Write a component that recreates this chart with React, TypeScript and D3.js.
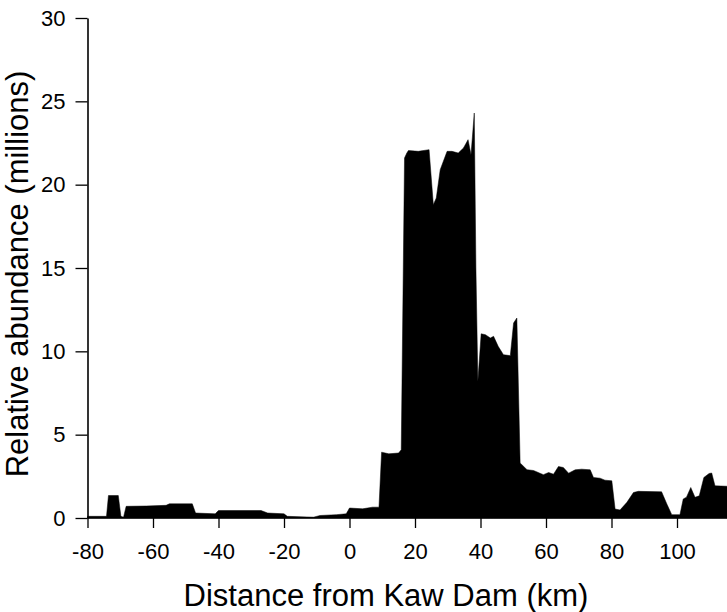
import React, { useEffect, useRef } from 'react';
import * as d3 from 'd3';

// distance from Kaw Dam (km) and relative abundance (millions)
const distanceKm = [
  -80, -74.2, -73.6, -70.6, -69.8, -69, -68.2, -62, -56, -55, -48, -47, -41, -40, -27, -25, -20, -19,
  -11, -9, -4, -1, 0, 4, 7, 9, 9.8, 12, 15, 15.8, 16.8, 17.5, 18, 21, 24.3, 25.6, 26.5, 27.7,
  29.8, 31.3, 33.2, 34.8, 36.2, 37.1, 38.1, 38.6, 39.2, 40.2, 41.5, 43, 44, 45.4, 47, 49.1,
  50.1, 51.1, 52.1, 54.2, 56.2, 59.2, 60.8, 62.3, 63.8, 65.3, 66.9, 68.9, 70.9, 73.5, 74.5,
  76.5, 78, 80.1, 81.1, 82.6, 84.7, 86.7, 88.2, 95.3, 96.9, 98.4, 100.9, 101.9, 102.9, 104.2,
  105.5, 106.8, 108.2, 109.8, 110.6, 111.6, 116
];
const abundance = [
  0.1, 0.1, 1.35, 1.35, 0.1, 0.05, 0.7, 0.72, 0.76, 0.85, 0.85, 0.3, 0.25, 0.45, 0.45, 0.3, 0.25, 0.1,
  0.05, 0.15, 0.2, 0.25, 0.6, 0.55, 0.65, 0.65, 3.95, 3.85, 3.9, 4.1, 21.6, 21.9, 22.05, 22.0, 22.1, 18.8, 19.2, 20.9,
  22.0, 22.0, 21.9, 22.2, 22.7, 21.8, 24.3, 15, 8.2, 11.05, 11.0, 10.8, 10.9, 10.3, 9.8, 9.74,
  11.7, 12.0, 3.3, 2.9, 2.85, 2.6, 2.73, 2.63, 3.09, 3.03, 2.69, 2.89, 2.93, 2.89, 2.43,
  2.39, 2.27, 2.23, 0.54, 0.48, 0.94, 1.53, 1.6, 1.57, 0.84, 0.2, 0.2, 1.14, 1.25, 1.83,
  1.24, 1.33, 2.43, 2.67, 2.7, 1.93, 1.9
];
const xTicks = [-80, -60, -40, -20, 0, 20, 40, 60, 80, 100];
const yTicks = [0, 5, 10, 15, 20, 25, 30];

const W = 727;
const H = 612;
const font = 'Arial, "Liberation Sans", Helvetica, sans-serif';

const App = () => {
  const ref = useRef<SVGSVGElement>(null);

  useEffect(() => {
    const svg = d3.select(ref.current);
    svg.selectAll('*').remove();

    const x = d3.scaleLinear().domain([-80, 120]).range([87.5, 742.5]);
    const y = d3.scaleLinear().domain([0, 30]).range([518, 18]);

    const data = distanceKm.map((d, i) => ({ km: d, v: abundance[i] }));

    const area = d3.area<{ km: number; v: number }>()
      .x(d => x(d.km))
      .y0(y(0))
      .y1(d => y(d.v));

    svg.append('path')
      .datum(data)
      .attr('fill', '#000')
      .attr('stroke', '#000')
      .attr('stroke-width', 0.5)
      .attr('d', area);

    const xAxis = svg.append('g')
      .attr('transform', `translate(0,${y(0)})`)
      .call(d3.axisBottom(x).tickValues(xTicks).tickSize(10).tickSizeOuter(0).tickPadding(15).tickFormat(d => String(d)));

    const yAxis = svg.append('g')
      .attr('transform', `translate(${x(-80)},0)`)
      .call(d3.axisLeft(y).tickValues(yTicks).tickSize(12).tickSizeOuter(0).tickPadding(10).tickFormat(d => String(d)));

    [xAxis, yAxis].forEach(g => {
      g.select('.domain').attr('stroke', '#000').attr('stroke-width', 1.6);
      g.selectAll('.tick line').attr('stroke', '#000').attr('stroke-width', 1.3);
      g.selectAll('.tick text')
        .attr('fill', '#000')
        .style('font-family', font)
        .style('font-size', '22px');
    });
    // x domain should reach the edge of the page
    xAxis.select('.domain').attr('d', `M${x(-80)},0H${W}`);

    svg.append('text')
      .attr('x', 386)
      .attr('y', 606)
      .attr('text-anchor', 'middle')
      .style('font-family', font)
      .style('font-size', '31px')
      .text('Distance from Kaw Dam (km)');

    svg.append('text')
      .attr('transform', 'translate(28,274) rotate(-90)')
      .attr('text-anchor', 'middle')
      .style('font-family', font)
      .style('font-size', '31px')
      .text('Relative abundance (millions)');
  }, []);

  return (
    <svg
      ref={ref}
      width={W}
      height={H}
      style={{ position: 'absolute', left: 0, top: 0, background: '#fff' }}
    />
  );
};

export default App;
